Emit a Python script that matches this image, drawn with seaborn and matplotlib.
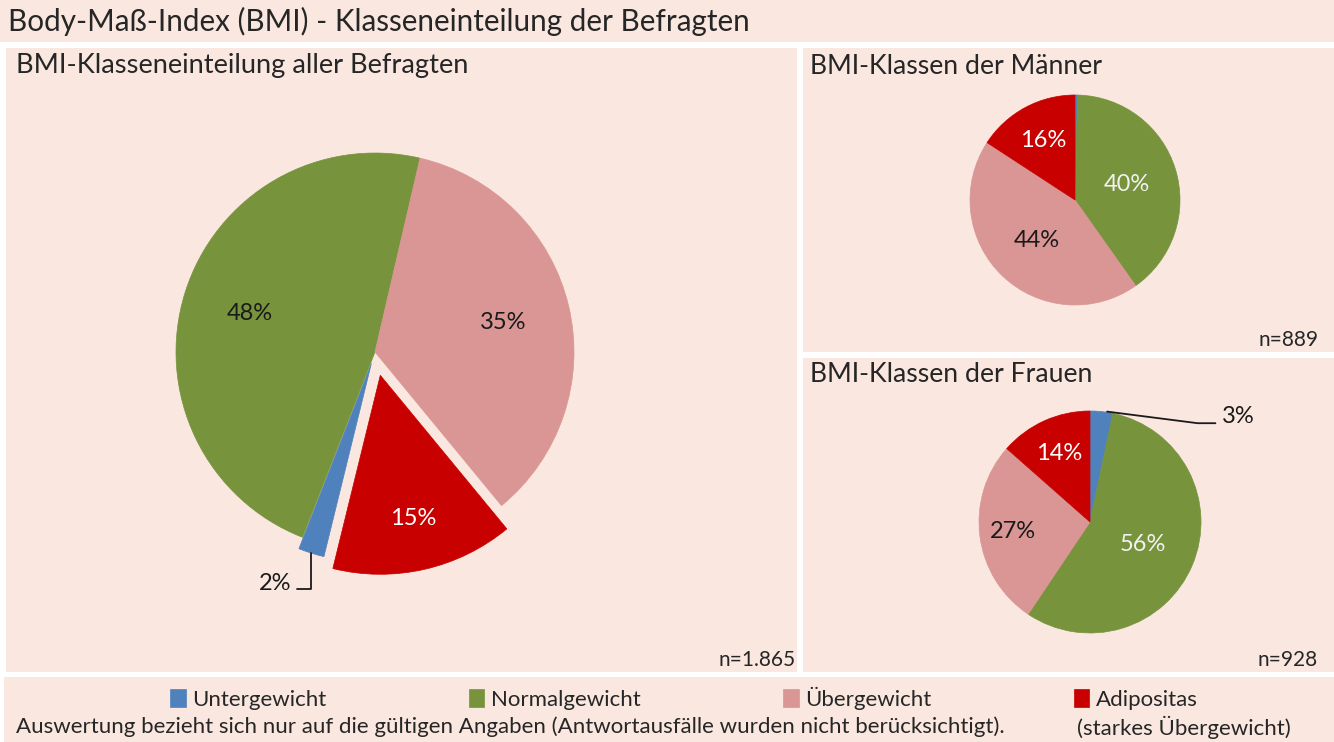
import numpy as np
import matplotlib
matplotlib.use("Agg")
import matplotlib.pyplot as plt
from matplotlib.patches import Rectangle
import seaborn as sns

# --- data --------------------------------------------------------------------
categories = ["Untergewicht", "Normalgewicht", "Übergewicht", "Adipositas"]
share_all = [2.1, 47.7, 35.4, 14.8]      # alle Befragten, %
share_men = [0.4, 39.8, 44.0, 15.8]      # Männer, %
share_women = [3.3, 56.1, 27.1, 13.5]    # Frauen, %
n_all, n_men, n_women = "n=1.865", "n=889", "n=928"

title = "Body-Maß-Index (BMI) - Klasseneinteilung der Befragten"
sub_all = "BMI-Klasseneinteilung aller Befragten"
sub_men = "BMI-Klassen der Männer"
sub_women = "BMI-Klassen der Frauen"
footnote = ("Auswertung bezieht sich nur auf die gültigen Angaben "
            "(Antwortausfälle wurden nicht berücksichtigt).")
footnote2 = "(starkes Übergewicht)"

# --- style ---------------------------------------------------------------
sns.set_theme(style="white")
plt.rcParams['font.family'] = ['Lato', 'DejaVu Sans']
NARROW = ['Liberation Sans Narrow', 'Lato', 'DejaVu Sans']

palette = sns.color_palette(["#4F81BD", "#77933C", "#D99694", "#C80000"])
BG = "#FAE8E0"

W, H = 1334, 742
fig = plt.figure(figsize=(W / 100, H / 100), dpi=100, facecolor="white")


def fx(x):
    return x / W


def fy(y):
    return 1 - y / H


def panel(x0, y0, x1, y1):
    fig.add_artist(Rectangle((fx(x0), fy(y1)), fx(x1 - x0), (y1 - y0) / H,
                             transform=fig.transFigure, facecolor=BG,
                             edgecolor="none", zorder=0))


panel(0, 0, 1334, 42)
panel(6, 48, 797, 672)
panel(803, 48, 1334, 352)
panel(803, 358, 1334, 672)
panel(4, 677, 1334, 742)


def draw_pie(cx, cy, r, shares, start, explode, dists, txtcolors):
    ax = fig.add_axes([fx(cx - r), fy(cy + r), 2 * r / W, 2 * r / H])
    wedges, _ = ax.pie(shares, colors=palette, startangle=start,
                       counterclock=False, explode=explode,
                       wedgeprops=dict(linewidth=0.5))
    ax.set_xlim(-1, 1)
    ax.set_ylim(-1, 1)
    ax.axis("off")
    for w, v, d, c in zip(wedges, shares, dists, txtcolors):
        w.set_clip_on(False)
        w.set_edgecolor(w.get_facecolor())
        if d is None:
            continue
        mid = np.deg2rad((w.theta1 + w.theta2) / 2)
        px = w.center[0] + d * np.cos(mid)
        py = w.center[1] + d * np.sin(mid)
        ax.text(px, py, f"{int(v + 0.5)}%", ha="center", va="center",
                color=c, fontsize=17, family=NARROW, clip_on=False)
    return ax, wedges


def outer_mid(w):
    mid = np.deg2rad((w.theta1 + w.theta2) / 2)
    return (w.center[0] + w.r * np.cos(mid), w.center[1] + w.r * np.sin(mid))


# alle Befragten
ax_all, w_all = draw_pie(375, 352, 199, share_all, -103.8,
                         [0.06, 0, 0, 0.12], [None, 0.66, 0.66, 0.74],
                         ["k", "#1a1a1a", "#1a1a1a", "white"])
a = outer_mid(w_all[0])
b = (a[0], a[1] - 0.18)
c = (b[0] - 0.07, b[1])
ax_all.plot([a[0], b[0], c[0]], [a[1], b[1], c[1]], color="k", lw=1.3,
            clip_on=False)
ax_all.text(c[0] - 0.03, c[1] + 0.025, f"{int(share_all[0] + 0.5)}%",
            ha="right", va="center", fontsize=17, family=NARROW,
            color="#1a1a1a")

# Männer
draw_pie(1075, 200, 105, share_men, 90, None, [None, 0.52, 0.53, 0.64],
         ["k", "#F2F2F2", "#1a1a1a", "white"])

# Frauen
ax_w, w_w = draw_pie(1090, 522, 111, share_women, 90, None,
                     [None, 0.52, 0.70, 0.68],
                     ["k", "#F2F2F2", "#1a1a1a", "white"])
a = outer_mid(w_w[0])
b = (0.97, 0.89)
c = (1.13, 0.89)
ax_w.plot([a[0] + 0.05, b[0], c[0]], [a[1], b[1], c[1]], color="k", lw=1.3,
          clip_on=False)
ax_w.text(c[0] + 0.06, c[1], f"{int(share_women[0] + 0.5)}%", ha="left",
          va="baseline", fontsize=17, family=NARROW, color="#1a1a1a")

# --- texts ---------------------------------------------------------------
fig.text(fx(8), fy(21), title, fontsize=21.3, va="center", ha="left")
fig.text(fx(16), fy(66), sub_all, fontsize=19.6, va="center", ha="left")
fig.text(fx(810), fy(66), sub_men, fontsize=19.2, va="center", ha="left")
fig.text(fx(810), fy(374), sub_women, fontsize=19.2, va="center", ha="left")
fig.text(fx(796), fy(660), n_all, fontsize=15, va="center", ha="right")
fig.text(fx(1318), fy(340), n_men, fontsize=15, va="center", ha="right")
fig.text(fx(1318), fy(660), n_women, fontsize=15, va="center", ha="right")

fig.legend(w_all, categories, loc="center", ncol=4,
           bbox_to_anchor=(fx(684), fy(698)), frameon=False, fontsize=16,
           handlelength=0.7, handleheight=0.9, handletextpad=0.3,
           columnspacing=6.4, borderpad=0, borderaxespad=0)
fig.text(fx(16), fy(727), footnote, fontsize=16, va="center", ha="left")
fig.text(fx(1077), fy(727), footnote2, fontsize=16, va="center", ha="left")

fig.savefig("out.png", dpi=100, facecolor="white")
